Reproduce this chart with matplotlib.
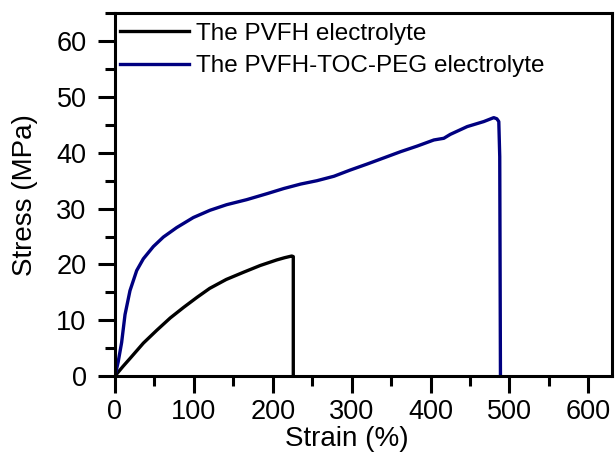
import matplotlib
matplotlib.use("Agg")
import matplotlib.pyplot as plt
from matplotlib.ticker import MultipleLocator

plt.rcParams['font.family'] = ['Liberation Sans', 'DejaVu Sans']

# PVFH electrolyte (black)
pvfh_strain = [0, 10, 20, 36, 53, 70, 87, 104, 120, 141, 163, 184, 205, 215,
               224, 226, 226]
pvfh_stress = [0, 1.7, 3.3, 5.9, 8.2, 10.4, 12.3, 14.1, 15.7, 17.3, 18.6, 19.8,
               20.8, 21.2, 21.5, 21.4, 0]

# PVFH-TOC-PEG electrolyte (navy)
peg_strain = [0, 4, 8.4, 12.7, 19, 27.5, 35.9, 48.6, 61.3, 78.2, 99.3, 120.4,
              141.5, 166.9, 193.3, 214, 235.4, 256, 277.6, 298, 319.9, 341, 362,
              383, 404.2, 416.8, 425, 446.5, 467.5, 480.1, 484, 486.5, 487.7,
              488.6]
peg_stress = [0, 2.5, 6.0, 11.0, 15.3, 18.9, 21.0, 23.2, 24.9, 26.6, 28.4, 29.7,
              30.7, 31.6, 32.7, 33.6, 34.4, 35.0, 35.8, 36.9, 38.0, 39.1, 40.2,
              41.2, 42.3, 42.6, 43.3, 44.7, 45.6, 46.3, 46.1, 45.6, 39.3, 0]

labels = ["The PVFH electrolyte", "The PVFH-TOC-PEG electrolyte"]
x_ticks = [0, 100, 200, 300, 400, 500, 600]
y_ticks = [0, 10, 20, 30, 40, 50, 60]

fig = plt.figure(figsize=(6.15, 4.63), dpi=100)
ax = fig.add_axes([115/615, 1-376/463, (612-115)/615, (376-13.3)/463])

ax.plot(pvfh_strain, pvfh_stress, color='black', lw=2.4, label=labels[0])
ax.plot(peg_strain, peg_stress, color='#000080', lw=2.4, label=labels[1])

ax.set_xlim(0, 630)
ax.set_ylim(0, 65)
ax.set_xticks(x_ticks)
ax.set_yticks(y_ticks)
ax.xaxis.set_minor_locator(MultipleLocator(50))
ax.yaxis.set_minor_locator(MultipleLocator(5))

for s in ax.spines.values():
    s.set_linewidth(2.2)
ax.tick_params(which='major', direction='out', length=12.5, width=2.2,
               labelsize=19.5, top=False, right=False)
ax.tick_params(which='minor', direction='out', length=7, width=2.2,
               top=False, right=False)
ax.tick_params(axis='x', which='major', pad=4)
ax.tick_params(axis='y', which='major', pad=8)

ax.set_xlabel("Strain (%)", fontsize=20)
ax.set_ylabel("Stress (MPa)", fontsize=20)
ax.xaxis.set_label_coords(0.467, -0.138)
ax.yaxis.set_label_coords(-0.155, 0.5)

ax.legend(loc='upper left', bbox_to_anchor=(0.01, 0.974), frameon=False,
          fontsize=17.5, handlelength=2.84, handletextpad=0.29,
          labelspacing=0.44, borderpad=0, borderaxespad=0)

fig.savefig("out.png", dpi=100)
